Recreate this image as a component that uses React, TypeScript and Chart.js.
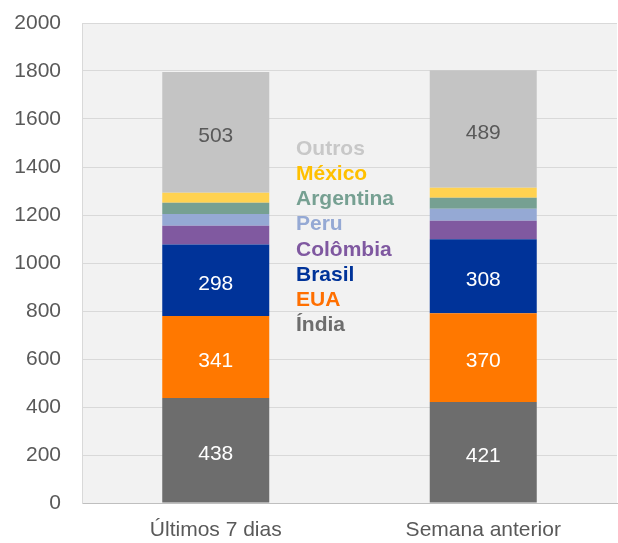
import React, { useEffect, useRef } from "react";
import { Chart, registerables } from "chart.js";

Chart.register(...registerables);

const categories = ["Últimos 7 dias", "Semana anterior"];
const seriesNames = ["Índia", "EUA", "Brasil", "Colômbia", "Peru", "Argentina", "México", "Outros"];
const india = [438, 421];
const eua = [341, 370];
const brasil = [298, 308];
const colombia = [78, 77];
const peru = [49, 50];
const argentina = [47, 46];
const mexico = [42, 42];
const outros = [503, 489];
const yTicks = [0, 200, 400, 600, 800, 1000, 1200, 1400, 1600, 1800, 2000];

const seriesValues = [india, eua, brasil, colombia, peru, argentina, mexico, outros];
const barColors = ["#6d6d6d", "#ff7800", "#003399", "#8059a0", "#95a9d4", "#76a092", "#ffd250", "#c4c4c4"];
const legendColors = ["#6d6d6d", "#ff6f00", "#003399", "#7f58a0", "#95a9d4", "#76a092", "#ffc000", "#c8c8c8"];
const showValue = [true, true, true, false, false, false, false, true];
const valueColors = ["#ffffff", "#ffffff", "#ffffff", "#ffffff", "#ffffff", "#ffffff", "#ffffff", "#595959"];

const FONT = '"Liberation Sans", Arial, sans-serif';

export default function App() {
  const ref = useRef<HTMLCanvasElement | null>(null);

  useEffect(() => {
    if (!ref.current) return;

    const bgPlugin = {
      id: "plotBg",
      beforeDraw(chart: any) {
        const { ctx, chartArea } = chart;
        ctx.save();
        ctx.fillStyle = "#f2f2f2";
        ctx.fillRect(chartArea.left, chartArea.top, chartArea.right - chartArea.left, chartArea.bottom - chartArea.top);
        ctx.restore();
      },
    };

    const labelPlugin = {
      id: "valueLabels",
      afterDatasetsDraw(chart: any) {
        const { ctx } = chart;
        ctx.save();
        ctx.font = `21px ${FONT}`;
        ctx.textAlign = "center";
        ctx.textBaseline = "middle";
        chart.data.datasets.forEach((ds: any, i: number) => {
          if (!showValue[i]) return;
          const meta = chart.getDatasetMeta(i);
          meta.data.forEach((bar: any, j: number) => {
            const cy = (bar.y + bar.base) / 2;
            ctx.fillStyle = valueColors[i];
            ctx.fillText(String(ds.data[j]), bar.x, cy + 4);
          });
        });
        ctx.restore();
      },
    };

    const legendPlugin = {
      id: "inlineLegend",
      afterDatasetsDraw(chart: any) {
        const { ctx } = chart;
        ctx.save();
        ctx.font = `bold 21px ${FONT}`;
        ctx.textAlign = "left";
        ctx.textBaseline = "middle";
        const n = seriesNames.length;
        for (let k = 0; k < n; k++) {
          const i = n - 1 - k;
          ctx.fillStyle = legendColors[i];
          ctx.fillText(seriesNames[i], 296, 149 + k * 25.2);
        }
        ctx.restore();
      },
    };

    const chart = new Chart(ref.current, {
      type: "bar",
      data: {
        labels: categories,
        datasets: seriesNames.map((name, i) => ({
          label: name,
          data: seriesValues[i],
          backgroundColor: barColors[i],
          borderWidth: 0,
          categoryPercentage: 1,
          barPercentage: 0.4,
        })),
      },
      options: {
        animation: false,
        responsive: false,
        maintainAspectRatio: false,
        layout: { padding: { top: 23, right: 1, left: 0, bottom: 0 } },
        plugins: {
          legend: { display: false },
          tooltip: { enabled: false },
        },
        scales: {
          x: {
            stacked: true,
            grid: { display: false, drawTicks: false },
            border: { display: true, color: "#bfbfbf", width: 1 },
            ticks: { color: "#595959", font: { family: FONT, size: 21 }, padding: 15 },
            afterFit(scale: any) {
              scale.height = 40;
              scale.paddingLeft = 0;
              scale.paddingRight = 0;
            },
          },
          y: {
            stacked: true,
            min: 0,
            max: 2000,
            afterBuildTicks(scale: any) {
              scale.ticks = yTicks.map((v) => ({ value: v }));
            },
            grid: { color: "#d9d9d9", lineWidth: 1, drawTicks: false },
            border: { display: true, color: "#d9d9d9", width: 1 },
            ticks: {
              color: "#595959",
              font: { family: FONT, size: 21 },
              padding: 21,
              callback: (v: any) => String(v),
            },
            afterFit(scale: any) {
              scale.width = 82;
              scale.paddingTop = 0;
              scale.paddingBottom = 0;
            },
          },
        },
      },
      plugins: [bgPlugin, labelPlugin, legendPlugin],
    });

    return () => chart.destroy();
  }, []);

  return (
    <div style={{ position: "absolute", left: 0, top: 0, width: 618, height: 543 }}>
      <canvas ref={ref} width={618} height={543} style={{ width: 618, height: 543 }} />
    </div>
  );
}
